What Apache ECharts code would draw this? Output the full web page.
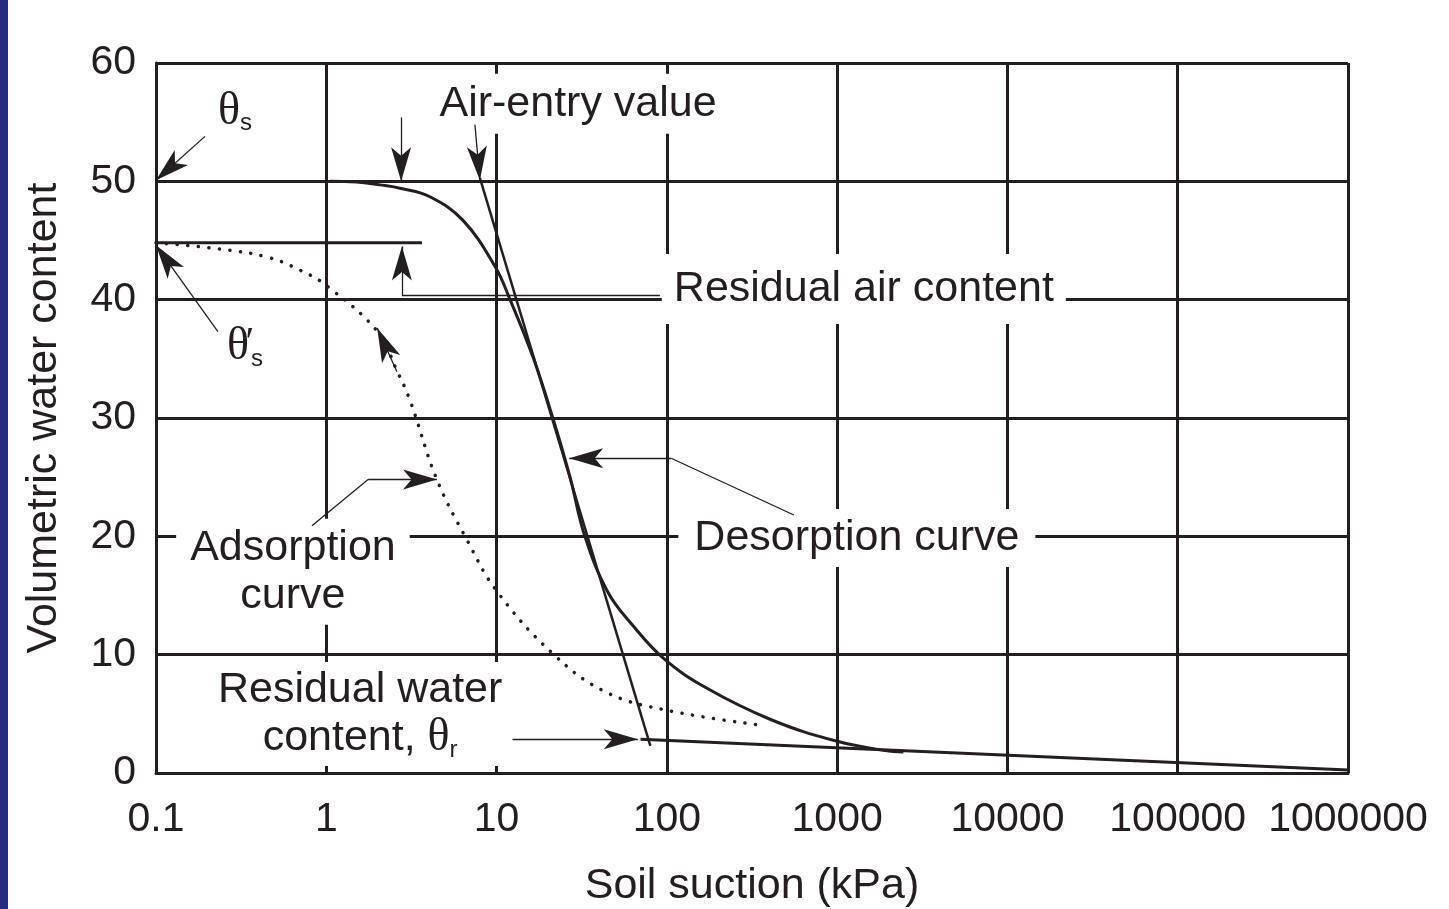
<!DOCTYPE html>
<html>
<head>
<meta charset="utf-8">
<script src="https://cdn.jsdelivr.net/npm/echarts@6/dist/echarts.min.js"></script>
<style>
html,body{margin:0;padding:0;background:#fff;overflow:hidden}
#chart{position:absolute;left:0;top:0;width:1449px;height:909px}
#strip{position:absolute;left:0;top:0;width:8px;height:909px;background:#282a80;z-index:5}
</style>
</head>
<body>
<div id="chart"></div><div id="strip"></div>
<script>
// ---- tick labels ----
const xTickLabels = ['0.1','1','10','100','1000','10000','100000','1000000'];
const yTickLabels = ['0','10','20','30','40','50','60'];

// ---- curves (soil suction kPa, volumetric water content %) ----
const desorptionX = [1.05, 1.5, 2.07, 2.75, 4.06, 6.35, 9.8, 12, 16.5, 21.4, 27, 33, 45, 62.8, 96, 170, 410, 986, 1910, 2450];
const desorptionY = [50.0, 49.95, 49.7, 49.4, 48.7, 46.7, 42.8, 40.0, 35.0, 30.0, 25.0, 20.0, 15.3, 12.5, 9.66, 7.2, 4.5, 2.7, 1.9, 1.77];

const adsorptionX = [0.1, 0.23, 0.45, 0.7, 1.0, 2.0, 2.6, 3.1, 4.46, 6.7, 10, 21, 43, 100, 380];
const adsorptionY = [44.8, 44.3, 43.6, 42.5, 41.2, 37.3, 34.0, 31.5, 24.8, 19.7, 15.4, 10.2, 6.9, 5.3, 4.0];

const tangentX = [7.98, 80];
const tangentY = [50.3, 2.3];

const residualX = [70, 1000000];
const residualY = [2.85, 0.25];

const satPrimeX = [0.1, 3.65];
const satPrimeY = [44.8, 44.8];

// ---- annotation leader lines (last segment ends in an arrow head) ----
const arrowThetaS      = [[0.194, 53.8], [0.1, 50.1]];
const arrowThetaSPrime = [[0.231, 37.3], [0.1, 44.6]];
const arrowAirEntry1   = [[2.75, 55.4], [2.75, 50.0]];
const arrowAirEntry2   = [[7.46, 54.8], [7.98, 50.1]];
const arrowResidualAir = [[91, 40.4], [2.78, 40.4], [2.78, 44.5]];
const arrowAdsorption  = [[0.824, 20.9], [1.76, 24.8], [4.47, 24.8]];
const arrowAdsCurve    = [[2.6, 33.9], [1.99, 37.6]];
const arrowDesorption  = [[557, 21.8], [106, 26.6], [26.7, 26.6]];
const arrowResidualW   = [[12.4, 2.85], [67.5, 2.85]];

// ---- annotation texts and anchor points ----
const labelTexts = ['θs', 'θ′s', 'Air-entry value', 'Residual air content', 'Adsorption\ncurve', 'Desorption curve', 'Residual water\ncontent, θr'];
const labelX = [0.291, 0.333, 30.1, 1435, 0.637, 1306, 1.58];
const labelY = [55.9, 36.0, 56.55, 40.9, 17.0, 19.86, 4.99];

const INK = '#231f20';
const SANS = "'Liberation Sans', Arial, Helvetica, sans-serif";
const SERIF = "'Liberation Serif', 'Times New Roman', serif";

function zip(xs, ys){ return xs.map((x,i)=>[x, ys[i]]); }

function arrowData(pts){
  const out = [];
  for (let i=0;i<pts.length-1;i++){
    const last = i === pts.length-2;
    out.push([{coord: pts[i], symbol:'none'}, {coord: pts[i+1], symbol: last ? 'arrow' : 'none'}]);
  }
  return out;
}
const allArrows = [arrowThetaS, arrowThetaSPrime, arrowAirEntry1, arrowAirEntry2, arrowResidualAir,
                   arrowAdsorption, arrowAdsCurve, arrowDesorption, arrowResidualW];
let markData = [];
allArrows.forEach(a => { markData = markData.concat(arrowData(a)); });

const rich = {
  th:  {fontFamily: SERIF, fontSize: 46, color: INK, lineHeight: 48},
  sub: {fontFamily: SANS, fontSize: 24, color: INK, verticalAlign: 'bottom', lineHeight: 26},
  pr:  {fontFamily: SERIF, fontSize: 40, color: INK, width: 2, verticalAlign: 'top', lineHeight: 40},
  t:   {fontFamily: SANS, fontSize: 43, color: INK, lineHeight: 48}
};

const labelStyles = [
  {formatter: '{th|θ}{sub|s}', backgroundColor: 'transparent', padding: 0},
  {formatter: '{th|θ}{pr|′}{sub|s}', backgroundColor: 'transparent', padding: 0},
  {formatter: '{t|Air-entry value}', backgroundColor: '#fff', padding: [6, 3]},
  {formatter: '{t|Residual air content}', backgroundColor: '#fff', padding: [11, 12]},
  {formatter: '{t|Adsorption}\n{t|curve}', backgroundColor: '#fff', padding: [5, 14]},
  {formatter: '{t|Desorption curve}', backgroundColor: '#fff', padding: [5, 16]},
  {formatter: '{t|Residual water}\n{t|content, }{th|θ}{sub|r}', backgroundColor: '#fff', padding: [4, 10]}
];

const labelData = labelTexts.map((txt, i) => ({
  name: txt,
  value: [labelX[i], labelY[i]],
  label: Object.assign({show: true, position: 'inside', rich: rich, color: INK, opacity: 1,
                        textBorderWidth: 0, align: 'center', verticalAlign: 'middle'}, labelStyles[i])
}));

const chart = echarts.init(document.getElementById('chart'), null, {renderer: 'canvas'});
chart.setOption({
  animation: false,
  backgroundColor: '#fff',
  textStyle: {fontFamily: SANS, color: INK},
  grid: {left: 156, right: 101, top: 63, bottom: 136, containLabel: false, outerBoundsMode: 'none'},
  xAxis: {
    type: 'log', logBase: 10, min: 0.1, max: 1000000, interval: 1,
    name: 'Soil suction (kPa)', nameLocation: 'middle', nameGap: 92,
    nameTextStyle: {fontFamily: SANS, fontSize: 43, color: INK},
    axisLine: {show: true, lineStyle: {color: INK, width: 3}},
    axisTick: {show: false},
    minorTick: {show: false},
    axisLabel: {
      fontFamily: SANS, fontSize: 41, color: INK, margin: 26,
      formatter: v => xTickLabels[Math.round(Math.log10(v)) + 1]
    },
    splitLine: {show: true, lineStyle: {color: INK, width: 3}}
  },
  yAxis: {
    type: 'value', min: 0, max: 60, interval: 10,
    name: 'Volumetric water content', nameLocation: 'middle', nameGap: 90,
    nameTextStyle: {fontFamily: SANS, fontSize: 43, color: INK},
    axisLine: {show: true, lineStyle: {color: INK, width: 3}},
    axisTick: {show: false},
    axisLabel: {
      fontFamily: SANS, fontSize: 41, color: INK, margin: 20,
      formatter: v => yTickLabels[Math.round(v / 10)]
    },
    splitLine: {show: true, lineStyle: {color: INK, width: 3}}
  },
  series: [
    {
      name: 'labels', type: 'scatter', z: 3, silent: true,
      symbol: 'circle', symbolSize: 1, itemStyle: {color: 'rgba(0,0,0,0)', opacity: 1},
      data: labelData,
      markLine: {
        silent: true, z: 6, animation: false,
        symbolSize: [15, 34],
        label: {show: false},
        lineStyle: {color: INK, width: 1.3, type: 'solid', opacity: 1},
        itemStyle: {color: INK, opacity: 1},
        emphasis: {disabled: true},
        data: markData
      }
    },
    {
      name: 'Desorption curve', type: 'line', z: 4, silent: true,
      data: zip(desorptionX, desorptionY), showSymbol: false, smooth: 0.4,
      lineStyle: {color: INK, width: 3}
    },
    {
      name: 'Adsorption curve', type: 'line', z: 4, silent: true,
      data: zip(adsorptionX, adsorptionY), showSymbol: false, smooth: 0.4,
      lineStyle: {color: INK, width: 3.5, type: [0.1, 10.5], cap: 'round'}
    },
    {
      name: 'Tangent', type: 'line', z: 4, silent: true,
      data: zip(tangentX, tangentY), showSymbol: false,
      lineStyle: {color: INK, width: 2.5}
    },
    {
      name: 'Residual', type: 'line', z: 4, silent: true,
      data: zip(residualX, residualY), showSymbol: false,
      lineStyle: {color: INK, width: 3}
    },
    {
      name: 'Theta s prime', type: 'line', z: 4, silent: true,
      data: zip(satPrimeX, satPrimeY), showSymbol: false,
      lineStyle: {color: INK, width: 3}
    }
  ]
});
</script>
</body>
</html>
